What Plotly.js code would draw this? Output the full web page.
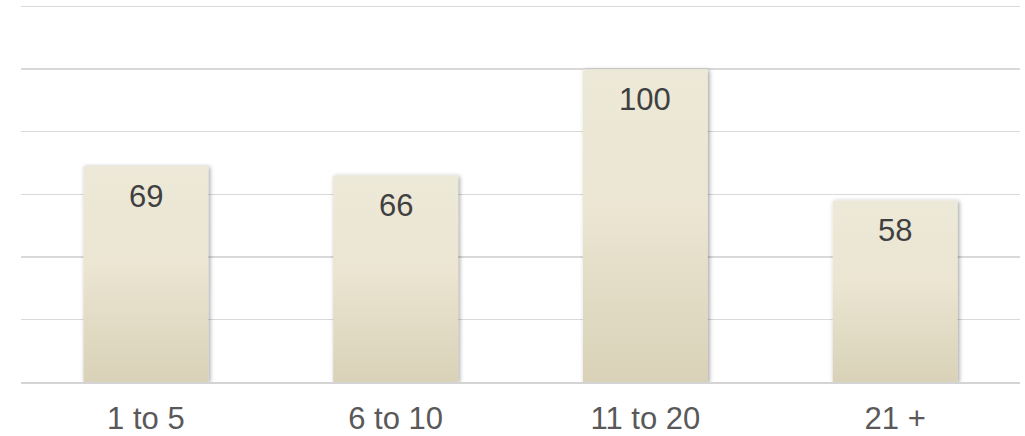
<!DOCTYPE html>
<html>
<head>
<meta charset="utf-8">
<script src="https://cdn.plot.ly/plotly-3.0.1.min.js"></script>
<style>
  html, body { margin: 0; padding: 0; background: #ffffff; }
  #chart { width: 1025px; height: 436px; }
</style>
</head>
<body>
<div id="chart"></div>
<script>
// Categories and counts
const categories = ['1 to 5', '6 to 10', '11 to 20', '21 +'];
const counts = [69, 66, 100, 58];

const FONT = 'Liberation Sans, Arial, sans-serif';

const trace = {
  type: 'bar',
  x: categories,
  y: counts,
  marker: { color: '#e4dfca', line: { width: 0 } },
  hoverinfo: 'x+y'
};

// Value labels sit inside the top of each bar
const valueLabels = categories.map((c, i) => ({
  x: c,
  y: counts[i],
  xref: 'x',
  yref: 'y',
  text: String(counts[i]),
  showarrow: false,
  yanchor: 'middle',
  yshift: -30,
  font: { family: FONT, size: 31, color: '#404040' }
}));

const layout = {
  width: 1025,
  height: 436,
  margin: { l: 21, r: 5, t: 4.9, b: 54 },
  paper_bgcolor: '#ffffff',
  plot_bgcolor: '#ffffff',
  showlegend: false,
  bargap: 0.5,
  xaxis: {
    type: 'category',
    showgrid: false,
    showline: true,
    linecolor: '#d4d4d4',
    linewidth: 2,
    ticks: '',
    ticklabelstandoff: 8,
    tickfont: { family: FONT, size: 31, color: '#595959' },
    fixedrange: true
  },
  yaxis: {
    range: [0, 120.5],
    tick0: 0,
    dtick: 20,
    showgrid: true,
    gridcolor: '#d9d9d9',
    gridwidth: 1.5,
    zeroline: false,
    showticklabels: false,
    ticks: '',
    fixedrange: true
  },
  annotations: valueLabels
};

Plotly.newPlot('chart', [trace], layout, { displayModeBar: false, staticPlot: true }).then(() => {
  const svgNS = 'http://www.w3.org/2000/svg';
  const defs = document.querySelector('#chart .main-svg defs');

  // Vertical beige gradient for the bar faces
  const grad = document.createElementNS(svgNS, 'linearGradient');
  grad.setAttribute('id', 'barFace');
  grad.setAttribute('x1', '0'); grad.setAttribute('y1', '0');
  grad.setAttribute('x2', '0'); grad.setAttribute('y2', '1');
  [['0', '#ede9d8'], ['0.45', '#ebe5d2'], ['1', '#d9d2b8']].forEach(([o, c]) => {
    const s = document.createElementNS(svgNS, 'stop');
    s.setAttribute('offset', o);
    s.setAttribute('stop-color', c);
    grad.appendChild(s);
  });
  defs.appendChild(grad);

  // Soft shadow around each bar
  const filt = document.createElementNS(svgNS, 'filter');
  filt.setAttribute('id', 'barShadow');
  filt.setAttribute('x', '-20%'); filt.setAttribute('y', '-10%');
  filt.setAttribute('width', '140%'); filt.setAttribute('height', '120%');
  const ds = document.createElementNS(svgNS, 'feDropShadow');
  ds.setAttribute('dx', '1.5');
  ds.setAttribute('dy', '1');
  ds.setAttribute('stdDeviation', '2.2');
  ds.setAttribute('flood-color', '#000000');
  ds.setAttribute('flood-opacity', '0.38');
  filt.appendChild(ds);
  defs.appendChild(filt);

  document.querySelectorAll('#chart .bars .point path').forEach(p => {
    p.style.fill = 'url(#barFace)';
    p.setAttribute('filter', 'url(#barShadow)');
  });
});
</script>
</body>
</html>
